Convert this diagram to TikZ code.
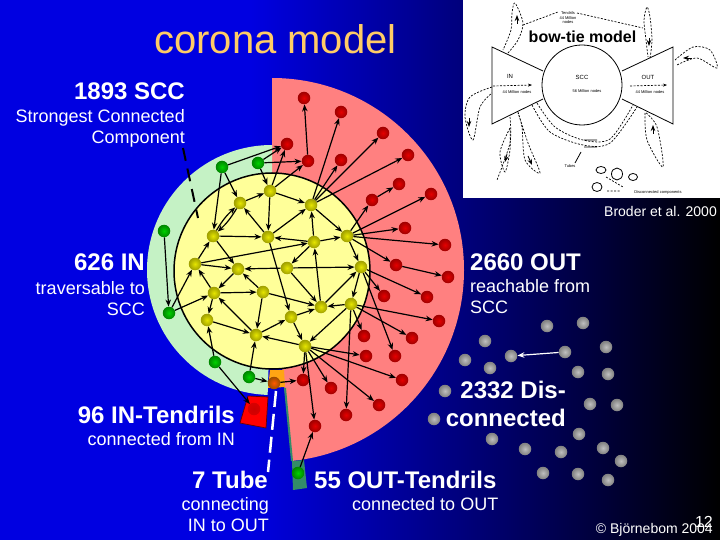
\documentclass[tikz,border=0pt]{standalone}
\usepackage{fontspec}
\usetikzlibrary{arrows.meta}
\setmainfont{Liberation Sans}
\definecolor{titleorange}{RGB}{255,204,102}
\definecolor{backblue}{RGB}{0,0,225}
\definecolor{outpink}{RGB}{255,128,128}
\definecolor{ingreen}{RGB}{197,242,197}
\definecolor{sccyellow}{RGB}{255,255,153}
\definecolor{tubeorange}{RGB}{255,165,20}
\definecolor{tendrilteal}{RGB}{51,140,105}
\pgfdeclarehorizontalshading{backshade}{100bp}{color(0bp)=(backblue); color(42.4bp)=(backblue); color(75bp)=(black); color(100bp)=(black)}
\tikzset{
	bigtext/.style={font=\bfseries\fontsize{24}{28}\selectfont,text=white,inner sep=0},
	subtext/.style={font=\fontsize{18}{21}\selectfont,text=white,inner sep=0},
	smalltext/.style={font=\fontsize{14}{16}\selectfont,text=white,inner sep=0},
	bowtext/.style={font=\fontsize{4}{4.5}\selectfont,text=black,inner sep=0,align=center},
	dot/.style n args={2}{circle,inner sep=0,minimum size=12.5pt,inner color=#1,outer color=#2},
	yellowdot/.style={dot={yellow!90!black}{yellow!62!black}},
	reddot/.style={dot={red!90!black}{red!62!black}},
	greendot/.style={dot={green!82!black}{green!52!black}},
	greydot/.style={dot={black!25}{black!50}},
	edge/.style={-{Stealth[length=7pt,width=5.5pt]},line width=1.2pt},
	bowline/.style={black,line width=.8pt},
	bowdash/.style={black,line width=.7pt,dash pattern=on 2pt off 1.5pt},
	bowtip/.style={black,-{Stealth[length=6pt,width=4.5pt]},line width=.8pt},
}
\begin{document}
\begin{tikzpicture}[x=1pt,y=-1pt]
	\useasboundingbox (0,0) rectangle (720,540);
	\fill[shading=backshade] (0,0) rectangle (720,540);

	%SECTORS
	\fill[outpink] (272,270) -- (272,78) arc[start angle=90,end angle=-84,radius=192pt] -- cycle;
	\fill[ingreen] (272,270) -- (272,145) arc[start angle=90,end angle=268,radius=125pt] -- cycle;
	\draw[line width=1.5pt,fill=sccyellow] (272,271) circle[radius=98pt];

	%TUBE AND TENDRILS
	\draw[tendrilteal,line width=2pt] (285,388) -- (292,461);
	\fill[tendrilteal] (292,461) -- (304,460) -- (307,488) -- (293,490) -- cycle;
	\fill[tubeorange] (270,370) -- (284,370) -- (285,387) -- (268,388) -- cycle;
	\draw[black!60!red,line width=.7pt,fill=red] (248,396) -- (268,397) -- (266,428) -- (240,423) -- cycle;

	%DOTS
	\foreach \n/\x/\y in {1/270/191,2/240/203,3/311/205,4/213/236,5/268/237,6/314/242,
		7/347/236,8/195/264,9/238/269,10/287/268,11/361/267,12/214/293,13/263/292,
		14/321/307,15/351/304,16/207/320,17/291/317,18/256/335,19/305/346}
		\node[yellowdot] (scc\n) at (\x,\y) {};
	\foreach \n/\x/\y in {1/304/98,2/341/112,3/383/133,4/408/155,5/399/184,6/431/194,
		7/372/200,8/405/228,9/445/245,10/396/265,11/448/277,12/341/160,13/308/161,
		14/287/144,15/384/296,16/427/297,17/439/321,18/364/336,19/412/338,20/366/356,
		21/395/356,22/402/380,23/303/380,24/331/388,25/379/405,26/346/415,27/315/426}
		\node[reddot] (out\n) at (\x,\y) {};
	\foreach \n/\x/\y in {1/222/167,2/258/163,3/164/231,4/169/313,5/215/362,6/249/377,7/298/473}
		\node[greendot] (in\n) at (\x,\y) {};
	\foreach \n/\x/\y in {1/547/326,2/583/323,3/485/341,4/606/347,5/565/352,6/511/356,
		7/465/360,8/490/368,9/578/372,10/608/374,11/445/391,12/590/404,13/617/405,
		14/434/419,15/579/434,16/492/439,17/603/448,18/525/449,19/561/452,20/621/461,
		21/543/473,22/578/474,23/608/480}
		\node[greydot] (dis\n) at (\x,\y) {};
	\node[dot={red!80!black}{red!85!black}] (tendrildot) at (254,409) {};
	\node[dot={orange!70!red}{orange!60!black}] (tubedot) at (274,383) {};

	%ARROWS
	\foreach \a/\b in {in1/out14,in2/out14,in2/out13,in2/scc1,in1/scc2,in1/scc4,in3/in4,
		scc1/out14,scc1/out13,scc1/scc3,scc2/scc1,scc1/scc5,out13/out1,
		scc3/out2,scc3/out12,scc3/out3,scc3/out4,scc5/scc3,scc5/scc2,scc6/scc3,scc3/scc7,
		scc6/scc5,scc6/scc7,scc7/out7,out7/out5,scc7/out6,scc7/out8,scc7/out9,scc7/out10,
		out10/out11,scc7/scc11,scc6/scc10,scc4/scc5,scc8/scc6,scc8/scc4,scc4/scc9,scc8/scc9,
		scc10/scc9,scc10/scc11,scc5/scc17,scc14/scc6,scc10/scc14,scc14/scc11,scc11/scc15,
		scc15/scc14,scc15/scc19,scc17/scc14,scc17/scc19,scc13/scc14,scc13/scc18,scc18/scc17,
		scc18/scc12,scc12/scc13,scc12/scc16,scc16/scc18,scc12/scc8,scc9/scc12,scc13/scc9,
		in4/scc8,in4/scc12,in5/scc16,in5/tendrildot,in6/scc18,in6/tubedot,tubedot/out23,
		scc19/scc18,scc19/out20,scc19/out22,scc19/out23,scc19/out24,scc19/out25,scc19/out27,
		scc15/out17,scc15/out19,scc15/out18,scc15/out26,scc11/out15,scc11/out16,scc11/out21,
		in7/out27}
		\draw[edge] (\a) -- (\b);
	\draw[edge] (scc4) to[bend left=8] (scc2);
	\draw[edge] (scc2) to[bend left=8] (scc4);
	\draw[edge,white] (dis5) -- (dis6);

	%LABELS
	\node[font=\fontsize{40}{44}\selectfont,text=titleorange,inner sep=0,anchor=base west] (title) at (154,54) {corona model};
	\node[bigtext,anchor=base east] (scclabel) at (185,100) {1893 SCC};
	\node[subtext,anchor=north east,align=right] (sccsub) at (185,109) {Strongest Connected\\Component};
	\node[bigtext,anchor=base east] (inlabel) at (145,270) {626 IN};
	\node[subtext,anchor=north east,align=right] (insub) at (145,281) {traversable to\\SCC};
	\node[bigtext,anchor=base west] (outlabel) at (470,270) {2660 OUT};
	\node[subtext,anchor=north west,align=left] (outsub) at (470,279) {reachable from\\SCC};
	\node[bigtext,align=right,anchor=east] (dislabel) at (566,404) {2332 Dis-\\connected};
	\node[bigtext,anchor=base east] (tendrillabel) at (235,423) {96 IN-Tendrils};
	\node[subtext,anchor=base east] (tendrilsub) at (235,445) {connected from IN};
	\node[bigtext,anchor=base east] (tubelabel) at (268,488) {7 Tube};
	\node[subtext,anchor=north east,align=right] (tubesub) at (269,497) {connecting\\IN to OUT};
	\node[bigtext,anchor=base west] (outtendril) at (314,488) {55 OUT-Tendrils};
	\node[subtext,anchor=base west] (outtendrilsub) at (352,510) {connected to OUT};
	\node[smalltext,anchor=base east] (pagenum) at (713,527) {\fontsize{16}{16}\selectfont 12};
	\node[smalltext,anchor=base east] (credit) at (713,533) {© Björnebom 2004};

	%LEADERS
	\coordinate (sccstart) at (183,148);
	\coordinate (sccend) at (198,218);
	\coordinate (tubestart) at (276,391);
	\coordinate (tubeend) at (268,472);
	\draw[black,line width=2pt,dash pattern=on 13pt off 8pt] (sccstart) -- (sccend);
	\draw[white,line width=2.5pt,dash pattern=on 16pt off 7pt] (tubestart) -- (tubeend);

	%BOW-TIE
	\fill[white] (463,0) rectangle (720,198);
	\node[smalltext,anchor=base east] (broder) at (717,216) {Broder et al. 2000};
	\draw[bowline] (582,85) circle[radius=40pt];
	\draw[bowline] (543,71) -- (492,47) -- (492,124) -- (543,99);
	\draw[bowline] (622,71) -- (673,47) -- (673,124) -- (622,99);
	\draw[bowdash] plot[smooth] coordinates {(508,53) (518,40) (523,23) (515,3) (512,13) (511,30) (503,50)};
	\draw[bowdash] plot[smooth] coordinates {(650,58) (652,40) (650,17) (647,7) (644,20) (646,40) (648,57)};
	\draw[bowdash] plot[smooth] coordinates {(675,60) (693,47) (710,50) (717,68) (697,58) (677,65)};
	\draw[bowdash] plot[smooth] coordinates {(492,87) (470,97) (465,117) (473,140) (480,107) (492,93)};
	\draw[bowdash] plot[smooth] coordinates {(510,117) (510,143) (497,180)};
	\draw[bowdash] plot[smooth] coordinates {(510,128) (500,152) (505,172) (510,150) (510,128)};
	\draw[bowdash] plot[smooth] coordinates {(518,112) (528,143) (540,173) (525,160) (522,127) (518,113)};
	\draw[bowdash] plot[smooth] coordinates {(645,113) (647,140) (663,167) (657,127) (645,112)};
	\draw[bowdash] plot[smooth] coordinates {(532,105) (550,132) (583,145) (610,143) (637,107)};
	\draw[bowdash] plot[smooth] coordinates {(537,103) (555,127) (583,140) (610,139) (633,105)};
	\draw[bowdash] (523,25) -- (558,12) (577,13) -- (643,28);
	\draw[bowline] (584,140) -- (597,140) (584,147) -- (597,147) (581,152) -- (575,163);
	\draw[bowtip] (517,24) -- (517,15);
	\draw[bowtip] (649,38) -- (649,46);
	\draw[bowtip] (692,58) -- (683,58);
	\draw[bowtip] (469,118) -- (469,127);
	\draw[bowtip] (507,154) -- (505,162);
	\draw[bowtip] (528,156) -- (532,165);
	\draw[bowtip] (653,134) -- (653,125);
	\draw[bowdash,-{Stealth[length=4pt,width=3pt]}] (493,86) -- (532,85);
	\draw[bowdash,-{Stealth[length=4pt,width=3pt]}] (630,86) -- (667,85);
	\draw[bowline] (601,170) ellipse[x radius=5pt,y radius=3.5pt];
	\draw[bowline] (617,174) ellipse[x radius=5.5pt,y radius=6pt];
	\draw[bowline] (633,177) ellipse[x radius=4.5pt,y radius=3.5pt];
	\draw[bowline] (597,187) ellipse[x radius=5pt,y radius=4.5pt];
	\draw[bowdash] (606,177) -- (623,187) (607,191) -- (620,191);
	\node[bowtext] (bowin) at (510,76) {\fontsize{6}{6}\selectfont IN};
	\node[bowtext] (bowscc) at (582,77) {\fontsize{6}{6}\selectfont SCC};
	\node[bowtext] (bowout) at (648,77) {\fontsize{6}{6}\selectfont OUT};
	\node[bowtext] (innodes) at (517,92) {44 Million nodes};
	\node[bowtext] (sccnodes) at (587,91) {56 Million nodes};
	\node[bowtext] (outnodes) at (650,92) {44 Million nodes};
	\node[bowtext] (tendrilnodes) at (568,18) {Tendrils\\44 Million\\nodes};
	\node[bowtext] (tubelab) at (570,166) {Tubes};
	\node[bowtext] (dislab) at (658,192) {Disconnected components};
	\node[font=\bfseries\fontsize{16}{18}\selectfont,text=black,inner sep=0] (bowtitle) at (582.5,37) {bow-tie model};
\end{tikzpicture}
\end{document}
